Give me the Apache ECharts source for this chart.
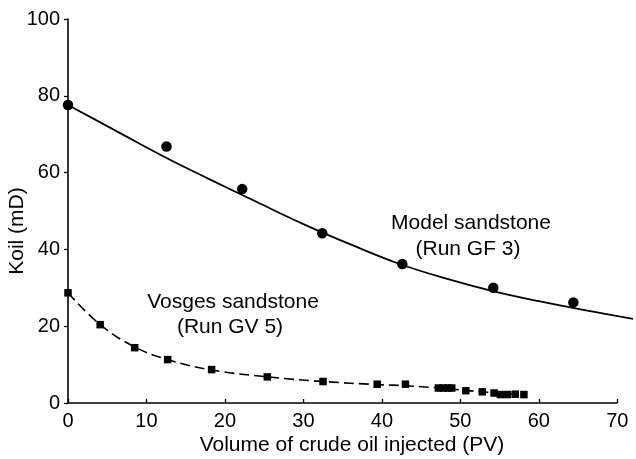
<!DOCTYPE html>
<html>
<head>
<meta charset="utf-8">
<script src="https://cdn.jsdelivr.net/npm/echarts@6/dist/echarts.min.js"></script>
<style>
  html, body { margin: 0; padding: 0; background: #fff; }
  #chart { width: 636px; height: 459px; }
</style>
</head>
<body>
<div id="chart"></div>
<script>
// ---- Data ----
const xTicks = [0, 10, 20, 30, 40, 50, 60, 70];
const yTicks = [0, 20, 40, 60, 80, 100];
const xDrawMax = 72; // fitted curve runs slightly past the last tick

// Model sandstone (Run GF 3) measured points
const modelX = [0, 12.55, 22.2, 32.4, 42.6, 54.2, 64.4];
const modelY = [77.6, 66.8, 55.7, 44.2, 36.2, 30.0, 26.2];
// Model sandstone fitted curve (solid)
const modelFitX = [0, 6, 12, 18, 24, 30, 36, 42, 48, 54, 60, 66, 72];
const modelFitY = [77.6, 71.0, 64.4, 58.3, 52.4, 46.6, 41.3, 36.4, 32.5, 29.2, 26.5, 24.1, 21.9];

// Vosges sandstone (Run GV 5) measured points
const vosgesX = [0, 4.1, 8.5, 12.7, 18.3, 25.4, 32.5, 39.4, 43.0, 47.2, 47.8, 48.4, 48.9, 50.7, 52.8, 54.3, 55.1, 56.0, 57.0, 58.1];
const vosgesY = [28.7, 20.4, 14.4, 11.3, 8.7, 6.8, 5.6, 4.9, 4.9, 3.9, 3.9, 3.9, 3.9, 3.2, 2.9, 2.6, 2.2, 2.2, 2.3, 2.2];
// Vosges sandstone fitted curve (dashed)
const vosgesFitX = [0, 4.1, 8.5, 12.7, 18.3, 25.4, 32.5, 39.4, 43.0, 48.0, 52.8, 58.1];
const vosgesFitY = [28.7, 20.4, 14.6, 11.3, 8.6, 6.8, 5.6, 4.8, 4.5, 3.8, 2.9, 2.2];

const xTitle = 'Volume of crude oil injected (PV)';
const yTitle = 'Koil (mD)';
const modelLabel = ['Model sandstone', '(Run GF 3)'];
const vosgesLabel = ['Vosges sandstone', '(Run GV 5)'];

const zip = (xs, ys) => xs.map((x, i) => [x, ys[i]]);
const FONT = '"Liberation Sans", Arial, Helvetica, sans-serif';
const xLast = xTicks[xTicks.length - 1];

const chart = echarts.init(document.getElementById('chart'), null, { renderer: 'canvas' });

chart.setOption({
  backgroundColor: '#ffffff',
  animation: false,
  grid: { left: 68, right: 3, top: 19, bottom: 56, containLabel: false },
  xAxis: {
    type: 'value',
    min: xTicks[0], max: xDrawMax, interval: 10,
    axisLine: { show: false },
    axisTick: { show: true, inside: true, length: 4, customValues: xTicks, lineStyle: { color: '#000', width: 1.3 } },
    axisLabel: { color: '#000', fontSize: 20, fontFamily: FONT, margin: 8, customValues: xTicks },
    splitLine: { show: false }
  },
  yAxis: {
    type: 'value',
    min: yTicks[0], max: yTicks[yTicks.length - 1], interval: 20,
    axisLine: { show: true, onZero: false, lineStyle: { color: '#000', width: 1.6 } },
    axisTick: { show: true, inside: false, length: 4, lineStyle: { color: '#000', width: 1.3 } },
    axisLabel: { color: '#000', fontSize: 20, fontFamily: FONT, margin: 8 },
    splitLine: { show: false }
  },
  series: [
    {
      type: 'line', name: 'Model fit', data: zip(modelFitX, modelFitY),
      smooth: 0.4, showSymbol: false, z: 2,
      lineStyle: { color: '#000', width: 1.8 },
      markLine: {
        silent: true, symbol: 'none', label: { show: false }, animation: false,
        lineStyle: { color: '#000', width: 1.6, type: 'solid' },
        data: [[{ coord: [xTicks[0], 0] }, { coord: [xLast, 0] }]]
      }
    },
    {
      type: 'line', name: 'Vosges fit', data: zip(vosgesFitX, vosgesFitY),
      smooth: 0.4, showSymbol: false, z: 2,
      lineStyle: { color: '#000', width: 1.6, type: [10, 5] }
    },
    {
      type: 'scatter', name: 'Model sandstone', data: zip(modelX, modelY),
      symbol: 'circle', symbolSize: 10.5, clip: false, z: 3,
      itemStyle: { color: '#000', opacity: 1 }
    },
    {
      type: 'scatter', name: 'Vosges sandstone', data: zip(vosgesX, vosgesY),
      symbol: 'rect', symbolSize: 7.5, clip: false, z: 3,
      itemStyle: { color: '#000', opacity: 1 }
    }
  ],
  graphic: [
    { type: 'text', x: 471, y: 223, style: { text: modelLabel[0], font: '21px ' + FONT, fill: '#000', textAlign: 'center', textVerticalAlign: 'middle' } },
    { type: 'text', x: 468, y: 249, style: { text: modelLabel[1], font: '21px ' + FONT, fill: '#000', textAlign: 'center', textVerticalAlign: 'middle' } },
    { type: 'text', x: 233, y: 302, style: { text: vosgesLabel[0], font: '21px ' + FONT, fill: '#000', textAlign: 'center', textVerticalAlign: 'middle' } },
    { type: 'text', x: 230, y: 327, style: { text: vosgesLabel[1], font: '21px ' + FONT, fill: '#000', textAlign: 'center', textVerticalAlign: 'middle' } },
    { type: 'text', x: 352, y: 445, style: { text: xTitle, font: '21px ' + FONT, fill: '#000', textAlign: 'center', textVerticalAlign: 'middle' } },
    { type: 'text', x: 17, y: 231, rotation: Math.PI / 2, style: { text: yTitle, font: '21px ' + FONT, fill: '#000', textAlign: 'center', textVerticalAlign: 'middle' } }
  ]
});
</script>
</body>
</html>
